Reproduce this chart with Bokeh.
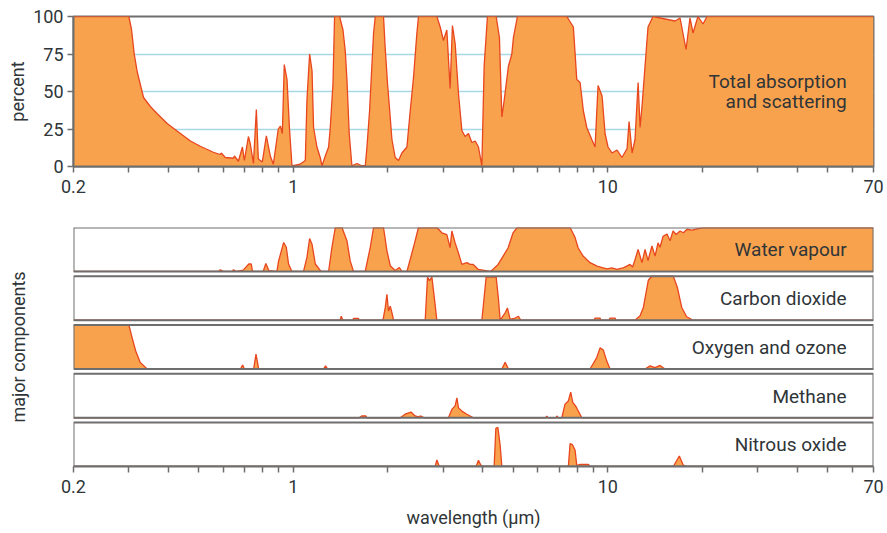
from bokeh.plotting import figure
from bokeh.models import Range1d, FixedTicker, Label, NumeralTickFormatter
from bokeh.layouts import column
from bokeh.embed import file_html
from bokeh.resources import INLINE

# ---------------- data (wavelength in micrometres, absorption in percent) ----------------
total_wl = [0.2, 0.30, 0.306, 0.312, 0.319, 0.334, 0.351, 0.37, 0.398, 0.428, 0.471, 0.506,
            0.557, 0.586, 0.59, 0.608, 0.645, 0.65, 0.669, 0.689, 0.699, 0.72, 0.73, 0.747,
            0.763, 0.774, 0.797, 0.821, 0.845, 0.864, 0.896, 0.91, 0.923, 0.936, 0.955, 0.972,
            0.99, 1.0, 1.05, 1.092, 1.105, 1.127, 1.147, 1.16, 1.189, 1.218, 1.234, 1.264,
            1.295, 1.311, 1.337, 1.353, 1.403, 1.439, 1.463, 1.481, 1.506, 1.536, 1.594, 1.65,
            1.694, 1.715, 1.748, 1.8, 1.823, 1.936, 1.96, 1.994, 2.014, 2.059, 2.109, 2.161,
            2.215, 2.298, 2.354, 2.411, 2.472, 2.501, 2.861, 2.932, 3.003, 3.078, 3.153, 3.207,
            3.271, 3.351, 3.436, 3.519, 3.606, 3.697, 3.788, 3.88, 3.978, 4.045, 4.144, 4.417,
            4.524, 4.605, 4.683, 4.833, 4.954, 5.012, 5.161, 7.408, 7.775, 7.971, 8.166, 8.366,
            8.577, 8.896, 9.113, 9.315, 9.592, 9.804, 10.02, 10.32, 10.7, 11.1, 11.52, 11.69,
            11.95, 12.21, 12.49, 12.67, 12.85, 13.14, 13.43, 13.93, 16.37, 16.98, 17.74, 18.26,
            18.67, 19.36, 20.09, 20.69, 70]
total_pct = [100, 100, 91, 75, 63, 46, 40, 35, 28.5, 23.5, 17, 13.5,
             9.5, 8, 9, 6, 5.5, 7, 3.5, 13, 4, 20, 15, 2,
             38, 5, 3, 20.5, 7, 1.5, 25, 27, 22, 68, 58, 26,
             1, 0.5, 1.5, 4, 44, 75, 64, 26, 13, 6, 0.5, 7,
             13, 26, 55, 100, 100, 91, 77, 58, 22, 0.5, 2, 0.5,
             0.5, 13, 37, 89, 100, 100, 79, 55, 44, 18, 6, 4,
             9, 13, 37, 59, 89, 100, 100, 93, 84, 91, 52, 94,
             82, 49, 24, 20, 22, 16, 17, 13, 0.5, 67, 100, 100,
             86, 33, 44, 67, 75, 86, 100, 100, 93, 58, 56, 37,
             26, 18, 13, 54, 47, 22, 13, 9, 11, 6, 12, 30,
             9, 18, 56, 26, 40, 67, 93, 100, 97, 99, 78, 99,
             89, 100, 95, 100, 100]

water_wl = [0.2, 0.58, 0.586, 0.6, 0.64, 0.645, 0.66, 0.693, 0.722, 0.735, 0.742, 0.802,
            0.818, 0.836, 0.887, 0.898, 0.932, 0.95, 0.966, 0.99, 1.078, 1.105, 1.127, 1.147,
            1.175, 1.225, 1.295, 1.327, 1.36, 1.428, 1.481, 1.517, 1.554, 1.694, 1.757, 1.8,
            1.936, 1.985, 2.034, 2.109, 2.174, 2.215, 2.298, 2.411, 2.501, 2.861, 2.968, 3.078,
            3.153, 3.193, 3.271, 3.351, 3.436, 3.564, 3.651, 3.733, 3.871, 4.227, 4.32, 4.481,
            4.649, 4.822, 5.0, 5.151, 7.59, 7.873, 8.048, 8.346, 8.785, 9.248, 9.6, 9.95,
            10.3, 10.7, 11.0, 11.19, 11.5, 11.77, 12.0, 12.21, 12.49, 12.85, 13.14, 13.43,
            13.82, 14.14, 14.45, 14.66, 15.0, 15.43, 15.78, 16.13, 16.5, 16.98, 17.4, 17.87,
            18.5, 20.09, 70]
water_pct = [0, 0, 4, 0, 0, 4, 0, 3, 17, 17, 0, 0,
             18, 2, 0, 24, 66, 55, 17, 0, 0, 32, 75, 62,
             17, 0, 0, 55, 100, 100, 70, 24, 0, 1, 55, 100,
             100, 47, 13, 2, 9, 0, 0, 55, 100, 100, 88, 84,
             54, 92, 65, 42, 16, 20, 16, 16, 5, 0, 5, 16,
             35, 54, 88, 100, 100, 77, 54, 35, 20, 12, 9, 6,
             8, 5, 7, 8, 12, 16, 10, 27, 50, 20, 50, 25,
             58, 35, 65, 55, 80, 85, 70, 92, 84, 92, 88, 96,
             94, 100, 100]

co2_wl = [0.2, 1.41, 1.42, 1.439, 1.55, 1.554, 1.612, 1.62, 1.928, 1.96, 1.985, 2.008,
          2.034, 2.059, 2.084, 2.627, 2.672, 2.712, 2.759, 2.812, 2.861, 3.978, 4.105, 4.417,
          4.492, 4.548, 4.717, 4.797, 4.893, 5.075, 5.199, 5.292, 9.05, 9.113, 9.452, 9.5,
          10.1, 10.17, 10.55, 10.6, 12.21, 12.67, 12.98, 13.46, 13.8, 16.16, 16.64, 17.19,
          17.82, 18.71, 70]
co2_pct = [0, 0, 9, 0, 0, 4, 4, 0, 0, 28, 59, 21,
           32, 17, 0, 0, 98, 90, 98, 48, 0, 0, 98, 98,
           48, 0, 17, 28, 2, 5, 9, 0, 0, 5, 5, 0,
           0, 5, 5, 0, 0, 10, 29, 91, 100, 100, 75, 29,
           8, 0, 0]

ozone_wl = [0.2, 0.3, 0.307, 0.315, 0.326, 0.343, 0.679, 0.69, 0.699, 0.748, 0.761, 0.776,
            1.248, 1.266, 1.285, 4.605, 4.717, 4.833, 8.785, 9.226, 9.452, 9.683, 9.927, 10.17,
            13.14, 13.63, 14.14, 14.66, 15.21, 70]
ozone_pct = [100, 100, 72, 42, 15, 0, 0, 9, 0, 0, 34, 0,
             0, 7, 0, 0, 15, 0, 0, 26, 48, 43, 18, 0,
             0, 7, 3, 8, 0, 0]

methane_wl = [0.2, 1.62, 1.65, 1.7, 1.715, 2.188, 2.268, 2.366, 2.441, 2.501, 2.545, 2.607,
              3.115, 3.193, 3.271, 3.313, 3.351, 3.436, 3.564, 3.741, 6.35, 6.4, 6.45, 6.85,
              6.887, 6.95, 7.143, 7.315, 7.494, 7.626, 7.739, 7.929, 8.27, 70]
methane_pct = [0, 0, 4, 4, 0, 0, 8, 13, 4, 2, 4, 0,
               0, 19, 27, 45, 23, 15, 8, 0, 0, 4, 0, 0,
               4, 0, 0, 31, 38, 58, 35, 25, 0, 0]

n2o_wl = [0.2, 2.827, 2.861, 2.895, 2.92, 3.815, 3.88, 3.949, 4.024, 4.352, 4.407, 4.472,
          4.548, 4.605, 7.494, 7.59, 7.716, 7.873, 7.971, 8.166, 8.677, 8.785, 16.16, 16.89,
          17.39, 17.82, 70]
n2o_pct = [0, 0, 15, 5, 0, 0, 14, 3, 0, 0, 87, 89,
           48, 0, 0, 52, 50, 37, 2, 5, 5, 0, 0, 24,
           3, 0, 0]

strip_names = ["Water vapour", "Carbon dioxide", "Oxygen and ozone", "Methane", "Nitrous oxide"]
strip_wl = [water_wl, co2_wl, ozone_wl, methane_wl, n2o_wl]
strip_pct = [water_pct, co2_pct, ozone_pct, methane_pct, n2o_pct]

major_ticks = [0.2, 1, 10, 70]
minor_ticks = [0.3, 0.4, 0.5, 0.6, 0.7, 0.8, 0.9, 2, 3, 4, 5, 6, 7, 8, 9, 20, 30, 40, 50, 60]
pct_ticks = [0, 25, 50, 75, 100]
grid_ticks = [25, 50, 75]

# ---------------- style ----------------
FONT = "Roboto"
FILL = "#F9A24D"
EDGE = "#E8461E"
FRAME = "#6E6E6E"
TEXT = "#2F3538"
GRID = "#A9D9E6"


def style_xaxis(p):
    ax = p.xaxis[0]
    ax.ticker = FixedTicker(ticks=major_ticks, minor_ticks=minor_ticks)
    ax.formatter = NumeralTickFormatter(format="0.[0]")
    ax.major_tick_in = 0
    ax.major_tick_out = 6
    ax.minor_tick_in = 0
    ax.minor_tick_out = 6
    ax.major_tick_line_color = FRAME
    ax.minor_tick_line_color = FRAME
    ax.major_tick_line_width = 1.5
    ax.minor_tick_line_width = 1.5
    ax.axis_line_color = FRAME
    ax.axis_line_width = 2
    ax.major_label_text_font = FONT
    ax.major_label_text_font_size = "18px"
    ax.major_label_text_color = TEXT
    ax.major_label_standoff = 7


# ---------------- top panel ----------------
p1 = figure(width=887, height=205, x_axis_type="log",
            x_range=Range1d(0.2, 70), y_range=Range1d(0, 100),
            output_backend="svg", toolbar_location=None,
            min_border_left=73, min_border_right=14, min_border_top=16, min_border_bottom=39)
p1.outline_line_color = FRAME
p1.outline_line_width = 2
p1.xgrid.visible = False
p1.ygrid.ticker = FixedTicker(ticks=grid_ticks)
p1.ygrid.grid_line_color = GRID
p1.ygrid.grid_line_width = 1.5

p1.varea(x=total_wl, y1=0, y2=total_pct, fill_color=FILL)
p1.line(total_wl, total_pct, line_color=EDGE, line_width=1.3)

style_xaxis(p1)
ya = p1.yaxis[0]
ya.ticker = FixedTicker(ticks=pct_ticks)
ya.major_tick_in = 0
ya.major_tick_out = 6
ya.major_tick_line_color = FRAME
ya.major_tick_line_width = 1.5
ya.axis_line_color = FRAME
ya.axis_line_width = 2
ya.major_label_text_font = FONT
ya.major_label_text_font_size = "18px"
ya.major_label_text_color = TEXT
ya.major_label_standoff = 4
ya.axis_label = "percent"
ya.axis_label_text_font = FONT
ya.axis_label_text_font_size = "18px"
ya.axis_label_text_font_style = "normal"
ya.axis_label_text_color = TEXT
ya.axis_label_standoff = 2

for txt, yv in [("Total absorption", 57), ("and scattering", 43.5)]:
    p1.add_layout(Label(x=57.5, y=yv, text=txt, text_align="right", text_baseline="alphabetic",
                        text_font=FONT, text_font_size="19px", text_color=TEXT))

# ---------------- bottom panel (five strips) ----------------
STRIP_GAP = 0.109
n = len(strip_names)
top_y = n + (n - 1) * STRIP_GAP

p2 = figure(width=887, height=328, x_axis_type="log",
            x_range=Range1d(0.2, 70), y_range=Range1d(0, top_y),
            output_backend="svg", toolbar_location=None,
            min_border_left=73, min_border_right=14, min_border_top=22, min_border_bottom=67)
p2.outline_line_color = None
p2.grid.visible = False

for i, (name, wl, pct) in enumerate(zip(strip_names, strip_wl, strip_pct)):
    base = (n - 1 - i) * (1 + STRIP_GAP)
    p2.quad(left=[0.2], right=[70], bottom=[base], top=[base + 1],
            fill_color="white", line_color=None)
    yy = [base + v / 100.0 for v in pct]
    p2.varea(x=wl, y1=base, y2=yy, fill_color=FILL)
    p2.line(wl, yy, line_color=EDGE, line_width=1.3)
    p2.quad(left=[0.2], right=[70], bottom=[base], top=[base + 1],
            fill_color=None, line_color=FRAME, line_width=2)
    p2.add_layout(Label(x=57.5, y=base + 0.49, text=name, text_align="right",
                        text_baseline="alphabetic", text_font=FONT, text_font_size="19px",
                        text_color=TEXT))

style_xaxis(p2)
p2.xaxis[0].axis_label = "wavelength (\u03bcm)"
p2.xaxis[0].axis_label_text_font = FONT
p2.xaxis[0].axis_label_text_font_size = "18px"
p2.xaxis[0].axis_label_text_font_style = "normal"
p2.xaxis[0].axis_label_text_color = TEXT
p2.xaxis[0].axis_label_standoff = 11

yb = p2.yaxis[0]
yb.ticker = FixedTicker(ticks=[])
yb.major_tick_out = 0
yb.major_tick_in = 0
yb.axis_line_color = None
yb.axis_label = "major components"
yb.axis_label_text_font = FONT
yb.axis_label_text_font_size = "18px"
yb.axis_label_text_font_style = "normal"
yb.axis_label_text_color = TEXT
yb.axis_label_standoff = 45

layout = column(p1, p2, spacing=0)
open("out.html", "w").write(file_html(layout, INLINE))
